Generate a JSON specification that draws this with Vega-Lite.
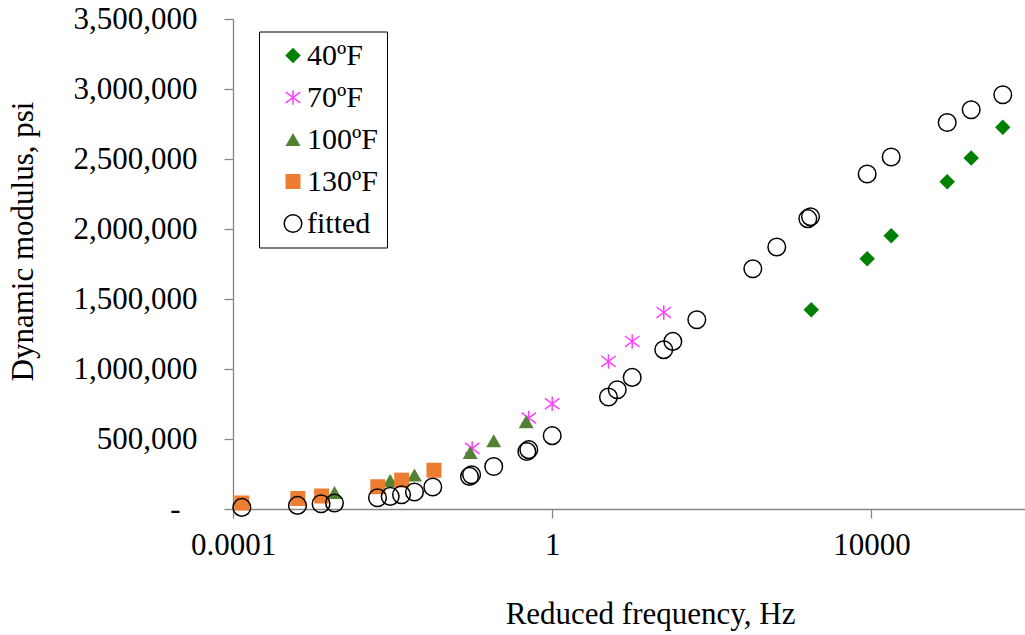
{
  "$schema": "https://vega.github.io/schema/vega-lite/v6.json",
  "width": 792,
  "height": 490,
  "autosize": {"type": "none"},
  "padding": {"left": 233, "top": 19, "right": 0, "bottom": 126},
  "background": "white",
  "config": {
    "view": {"stroke": null},
    "font": "Liberation Serif",
    "legend": {
      "strokeColor": "#000000",
      "strokeWidth": 1,
      "padding": 9,
      "symbolOffset": 10,
      "labelOffset": -1,
      "rowPadding": 12,
      "labelFontSize": 30,
      "labelFont": "Liberation Serif",
      "labelColor": "#000000",
      "symbolStrokeWidth": 1.5,
      "labelLimit": 300
    }
  },
  "data": {
    "values": [
      {"f": 1762, "E": 1424000, "s": "40ºF"},
      {"f": 8851, "E": 1788000, "s": "40ºF"},
      {"f": 17700, "E": 1952000, "s": "40ºF"},
      {"f": 89100, "E": 2338000, "s": "40ºF"},
      {"f": 178000, "E": 2507000, "s": "40ºF"},
      {"f": 443000, "E": 2726000, "s": "40ºF"},
      {"f": 0.0994, "E": 433000, "s": "70ºF"},
      {"f": 0.509, "E": 650000, "s": "70ºF"},
      {"f": 1.0, "E": 752000, "s": "70ºF"},
      {"f": 5.07, "E": 1054000, "s": "70ºF"},
      {"f": 10.06, "E": 1197000, "s": "70ºF"},
      {"f": 25.0, "E": 1404000, "s": "70ºF"},
      {"f": 0.00187, "E": 118600, "s": "100ºF"},
      {"f": 0.00933, "E": 204000, "s": "100ºF"},
      {"f": 0.0188, "E": 243000, "s": "100ºF"},
      {"f": 0.0938, "E": 404000, "s": "100ºF"},
      {"f": 0.185, "E": 488000, "s": "100ºF"},
      {"f": 0.472, "E": 624000, "s": "100ºF"},
      {"f": 0.000129, "E": 42900, "s": "130ºF"},
      {"f": 0.000649, "E": 75000, "s": "130ºF"},
      {"f": 0.00129, "E": 92900, "s": "130ºF"},
      {"f": 0.00653, "E": 159000, "s": "130ºF"},
      {"f": 0.013, "E": 206000, "s": "130ºF"},
      {"f": 0.033, "E": 277000, "s": "130ºF"},
      {"f": 0.000129, "E": 11400, "s": "fitted"},
      {"f": 0.000643, "E": 25700, "s": "fitted"},
      {"f": 0.00127, "E": 37900, "s": "fitted"},
      {"f": 0.00187, "E": 42900, "s": "fitted"},
      {"f": 0.00647, "E": 80700, "s": "fitted"},
      {"f": 0.00933, "E": 90000, "s": "fitted"},
      {"f": 0.01294, "E": 102000, "s": "fitted"},
      {"f": 0.0188, "E": 121000, "s": "fitted"},
      {"f": 0.0319, "E": 157000, "s": "fitted"},
      {"f": 0.092, "E": 233000, "s": "fitted"},
      {"f": 0.0977, "E": 245000, "s": "fitted"},
      {"f": 0.185, "E": 304000, "s": "fitted"},
      {"f": 0.481, "E": 411000, "s": "fitted"},
      {"f": 0.509, "E": 424000, "s": "fitted"},
      {"f": 1.0, "E": 524000, "s": "fitted"},
      {"f": 5.07, "E": 800000, "s": "fitted"},
      {"f": 6.53, "E": 852000, "s": "fitted"},
      {"f": 10.06, "E": 940000, "s": "fitted"},
      {"f": 25.0, "E": 1138000, "s": "fitted"},
      {"f": 32.5, "E": 1197000, "s": "fitted"},
      {"f": 64.9, "E": 1352000, "s": "fitted"},
      {"f": 326.6, "E": 1716000, "s": "fitted"},
      {"f": 652, "E": 1871000, "s": "fitted"},
      {"f": 1596, "E": 2074000, "s": "fitted"},
      {"f": 1726, "E": 2088000, "s": "fitted"},
      {"f": 8851, "E": 2393000, "s": "fitted"},
      {"f": 17700, "E": 2514000, "s": "fitted"},
      {"f": 89100, "E": 2761000, "s": "fitted"},
      {"f": 178000, "E": 2852000, "s": "fitted"},
      {"f": 443000, "E": 2959000, "s": "fitted"}
    ]
  },
  "mark": {"type": "point", "opacity": 1, "strokeWidth": 1.5},
  "encoding": {
    "x": {
      "field": "f",
      "type": "quantitative",
      "scale": {"type": "log", "domain": [0.0001, 841000], "nice": false},
      "axis": {
        "values": [0.0001, 1, 10000],
        "labelExpr": "datum.value < 0.001 ? '0.0001' : datum.value < 10 ? '1' : '10000'",
        "grid": false,
        "domainColor": "#868686",
        "domainWidth": 1.3,
        "tickColor": "#868686",
        "tickWidth": 1.3,
        "tickSize": 9,
        "labelPadding": 12,
        "labelFont": "Liberation Serif",
        "labelFontSize": 31,
        "labelColor": "#000000",
        "labelFlush": false,
        "labelOverlap": false,
        "labelBound": false,
        "title": "Reduced frequency, Hz",
        "titleFont": "Liberation Serif",
        "titleFontSize": 31,
        "titleFontWeight": "normal",
        "titleColor": "#000000",
        "titleX": 417,
        "titleY": 114,
        "titleAlign": "center",
        "titleBaseline": "alphabetic"
      }
    },
    "y": {
      "field": "E",
      "type": "quantitative",
      "scale": {"domain": [0, 3500000], "nice": false, "zero": true},
      "axis": {
        "values": [0, 500000, 1000000, 1500000, 2000000, 2500000, 3000000, 3500000],
        "labelExpr": "datum.value == 0 ? '-' : format(datum.value, ',')",
        "grid": false,
        "domainColor": "#868686",
        "domainWidth": 1.3,
        "tickColor": "#868686",
        "tickWidth": 1.3,
        "tickSize": 9,
        "labelPadding": {"condition": {"test": "datum.value === 0", "value": 44}, "value": 27},
        "labelFont": "Liberation Serif",
        "labelFontSize": 31,
        "labelColor": "#000000",
        "labelOverlap": false,
        "labelBound": false,
        "title": "Dynamic modulus, psi",
        "titleFont": "Liberation Serif",
        "titleFontSize": 31,
        "titleFontWeight": "normal",
        "titleColor": "#000000",
        "titleAngle": 270,
        "titleX": -201,
        "titleY": 222,
        "titleAlign": "center",
        "titleBaseline": "alphabetic"
      }
    },
    "shape": {
      "field": "s",
      "type": "nominal",
      "scale": {
        "domain": ["40ºF", "70ºF", "100ºF", "130ºF", "fitted"],
        "range": ["diamond", "M-1,-0.75L1,0.75M1,-0.75L-1,0.75M0,-1L0,1", "triangle-up", "square", "circle"]
      },
      "legend": {"orient": "none", "legendX": 26, "legendY": 12.5, "title": null, "labelExpr": "datum.label + '\u00a0\u00a0\u00a0'"}
    },
    "fill": {
      "field": "s",
      "type": "nominal",
      "scale": {
        "domain": ["40ºF", "70ºF", "100ºF", "130ºF", "fitted"],
        "range": ["#008000", "transparent", "#548235", "#ED7D31", "transparent"]
      },
      "legend": {"orient": "none", "legendX": 26, "legendY": 12.5, "title": null, "labelExpr": "datum.label + '\u00a0\u00a0\u00a0'"}
    },
    "stroke": {
      "field": "s",
      "type": "nominal",
      "scale": {
        "domain": ["40ºF", "70ºF", "100ºF", "130ºF", "fitted"],
        "range": ["transparent", "#FF40FF", "transparent", "transparent", "#000000"]
      },
      "legend": {"orient": "none", "legendX": 26, "legendY": 12.5, "title": null, "labelExpr": "datum.label + '\u00a0\u00a0\u00a0'"}
    },
    "size": {
      "field": "s",
      "type": "nominal",
      "scale": {
        "type": "ordinal",
        "domain": ["40ºF", "70ºF", "100ºF", "130ºF", "fitted"],
        "range": [240, 210, 225, 225, 310]
      },
      "legend": {"orient": "none", "legendX": 26, "legendY": 12.5, "title": null, "labelExpr": "datum.label + '\u00a0\u00a0\u00a0'"}
    }
  }
}
